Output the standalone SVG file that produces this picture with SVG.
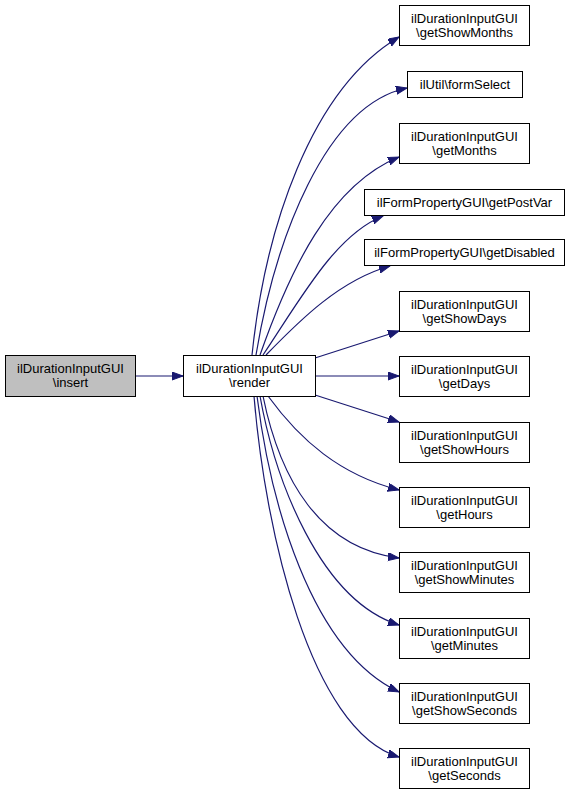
<svg xmlns="http://www.w3.org/2000/svg" width="572" height="795" viewBox="0 0 572 795">
<style>
.n rect{fill:#fff;stroke:#000;stroke-width:1}
.n.h rect{fill:#bfbfbf}
text{font-family:"Liberation Sans",Arial,sans-serif;font-size:13px;text-anchor:middle;fill:#000}
.e path{fill:none;stroke:#191970;stroke-width:1.2;marker-end:url(#a)}
</style>
<defs>
<marker id="a" markerUnits="userSpaceOnUse" markerWidth="12" markerHeight="9" refX="11" refY="4" orient="auto">
<polygon points="0,0 11,4 0,8" fill="#191970" stroke="#191970"/>
</marker>
</defs>
<rect width="572" height="795" fill="#fff"/>
<g class="e" id="edges">
<path d="M135,376 L183,376"/>
<path d="M252,355 C265,230 310,90 399,37"/>
<path d="M256,355 C275,240 325,105 407,88"/>
<path d="M260,355 C290,270 330,185 399,157"/>
<path d="M263,355 C300,300 335,235 383,216"/>
<path d="M266,355 C300,320 340,280 390,266"/>
<path d="M315,358 L399,331"/>
<path d="M315,376 L399,376"/>
<path d="M315,395 L399,422"/>
<path d="M268,396 C300,440 340,475 399,490"/>
<path d="M263,396 C280,480 320,548 399,558"/>
<path d="M260,396 C275,480 320,600 399,625"/>
<path d="M257,396 C270,500 310,650 399,692"/>
<path d="M254,396 C265,530 310,730 399,757"/>
</g>
<g class="n h" id="insert"><rect x="5.5" y="355.5" width="130" height="41"/><text x="70.5" y="373">ilDurationInputGUI</text><text x="70.5" y="387">\insert</text></g>
<g class="n" id="render"><rect x="183.5" y="355.5" width="132" height="41"/><text x="249.5" y="373">ilDurationInputGUI</text><text x="249.5" y="387">\render</text></g>
<g class="n" id="getShowMonths"><rect x="399.5" y="5.5" width="130" height="40"/><text x="464.5" y="23">ilDurationInputGUI</text><text x="464.5" y="37">\getShowMonths</text></g>
<g class="n" id="formSelect"><rect x="407.5" y="71.5" width="115" height="26"/><text x="465" y="89">ilUtil\formSelect</text></g>
<g class="n" id="getMonths"><rect x="399.5" y="123.5" width="130" height="40"/><text x="464.5" y="141">ilDurationInputGUI</text><text x="464.5" y="155">\getMonths</text></g>
<g class="n" id="getPostVar"><rect x="364.5" y="189.5" width="200" height="26"/><text x="464.5" y="207">ilFormPropertyGUI\getPostVar</text></g>
<g class="n" id="getDisabled"><rect x="364.5" y="239.5" width="200" height="26"/><text x="464.5" y="257">ilFormPropertyGUI\getDisabled</text></g>
<g class="n" id="getShowDays"><rect x="399.5" y="291.5" width="130" height="40"/><text x="464.5" y="309">ilDurationInputGUI</text><text x="464.5" y="323">\getShowDays</text></g>
<g class="n" id="getDays"><rect x="399.5" y="356.5" width="130" height="40"/><text x="464.5" y="374">ilDurationInputGUI</text><text x="464.5" y="388">\getDays</text></g>
<g class="n" id="getShowHours"><rect x="399.5" y="422.5" width="130" height="40"/><text x="464.5" y="440">ilDurationInputGUI</text><text x="464.5" y="454">\getShowHours</text></g>
<g class="n" id="getHours"><rect x="399.5" y="487.5" width="130" height="40"/><text x="464.5" y="505">ilDurationInputGUI</text><text x="464.5" y="519">\getHours</text></g>
<g class="n" id="getShowMinutes"><rect x="399.5" y="552.5" width="130" height="40"/><text x="464.5" y="570">ilDurationInputGUI</text><text x="464.5" y="584">\getShowMinutes</text></g>
<g class="n" id="getMinutes"><rect x="399.5" y="618.5" width="130" height="40"/><text x="464.5" y="636">ilDurationInputGUI</text><text x="464.5" y="650">\getMinutes</text></g>
<g class="n" id="getShowSeconds"><rect x="399.5" y="683.5" width="130" height="40"/><text x="464.5" y="701">ilDurationInputGUI</text><text x="464.5" y="715">\getShowSeconds</text></g>
<g class="n" id="getSeconds"><rect x="399.5" y="748.5" width="130" height="40"/><text x="464.5" y="766">ilDurationInputGUI</text><text x="464.5" y="780">\getSeconds</text></g>
</svg>
